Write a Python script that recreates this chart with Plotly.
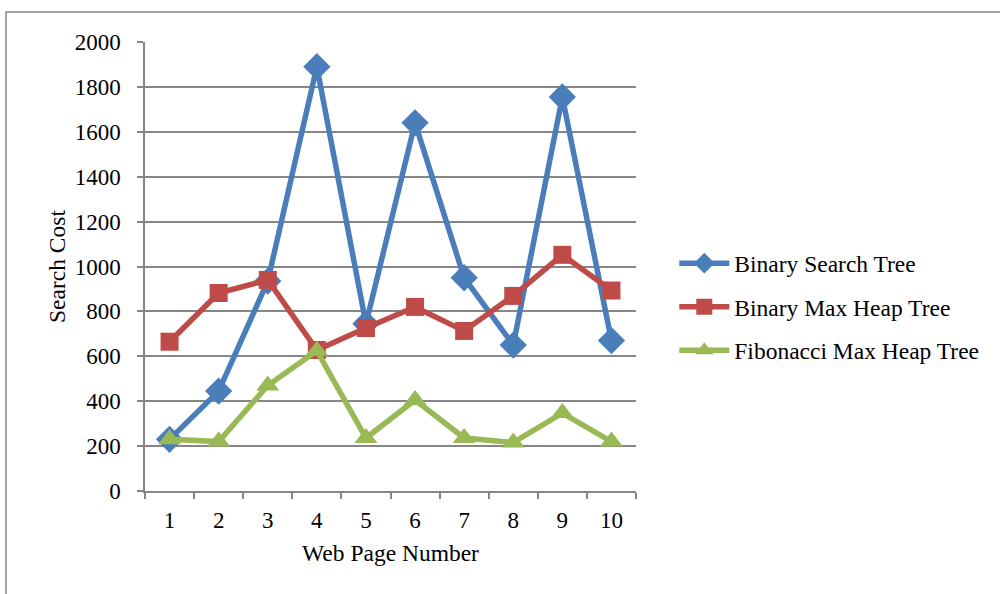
import plotly.graph_objects as go

pages = ["1", "2", "3", "4", "5", "6", "7", "8", "9", "10"]
bst = [230, 445, 935, 1890, 745, 1640, 950, 650, 1755, 670]
bmh = [665, 882, 940, 628, 726, 820, 713, 869, 1052, 893]
fmh = [230, 220, 470, 625, 236, 405, 236, 216, 347, 220]

series = [
    ("Binary Search Tree", bst, "#4A7EBB", "diamond", 21),
    ("Binary Max Heap Tree", bmh, "#BE4B48", "square", 18),
    ("Fibonacci Max Heap Tree", fmh, "#98B954", "triangle-up", 20),
]

fig = go.Figure()
for i, (name, vals, col, sym, sz) in enumerate(series):
    fig.add_trace(go.Scatter(
        x=pages, y=vals, name=name, mode="lines+markers", legendgroup=f"g{i}",
        line=dict(color=col, width=5.5),
        marker=dict(symbol=sym, size=sz, color=col, line=dict(width=0)),
    ))

font = "Liberation Serif, Times New Roman, serif"
fig.update_layout(
    width=1000, height=594,
    margin=dict(l=145, r=364, t=42, b=103),
    plot_bgcolor="white", paper_bgcolor="white",
    font=dict(family=font, size=23, color="black"),
    showlegend=True,
    legend=dict(x=1.078, y=0.41, yanchor="middle", xanchor="left",
                font=dict(family=font, size=23.5), itemwidth=50,
                tracegroupgap=10, bgcolor="rgba(0,0,0,0)"),
    xaxis=dict(
        type="category", range=[-0.5, 9.5], tickson="boundaries",
        ticks="outside", ticklen=6,
        tickcolor="#868686", tickwidth=1.5,
        showline=True, linecolor="#868686", linewidth=1.5,
        showgrid=False, zeroline=False, ticklabelstandoff=8,
        title=dict(text="Web Page Number", font=dict(family=font, size=23.5), standoff=12),
        tickfont=dict(family=font, size=23),
    ),
    yaxis=dict(
        range=[0, 2000], dtick=200, ticks="outside", ticklen=6,
        tickcolor="#868686", tickwidth=1.5,
        showline=True, linecolor="#868686", linewidth=1.5,
        showgrid=True, gridcolor="#868686", gridwidth=1.5,
        zeroline=False, ticklabelstandoff=12,
        title=dict(text="Search Cost", font=dict(family=font, size=23.5), standoff=2),
        tickfont=dict(family=font, size=23),
    ),
    shapes=[dict(type="rect", xref="paper", yref="paper",
                 x0=(6 - 145) / 491, x1=2.0, y0=-0.5, y1=(491 - 12) / 449,
                 line=dict(color="#868686", width=1.5), fillcolor="rgba(0,0,0,0)",
                 layer="below")],
)

fig.write_html("out.html", config={"displayModeBar": False},
               post_script="document.body.style.margin='0';")
